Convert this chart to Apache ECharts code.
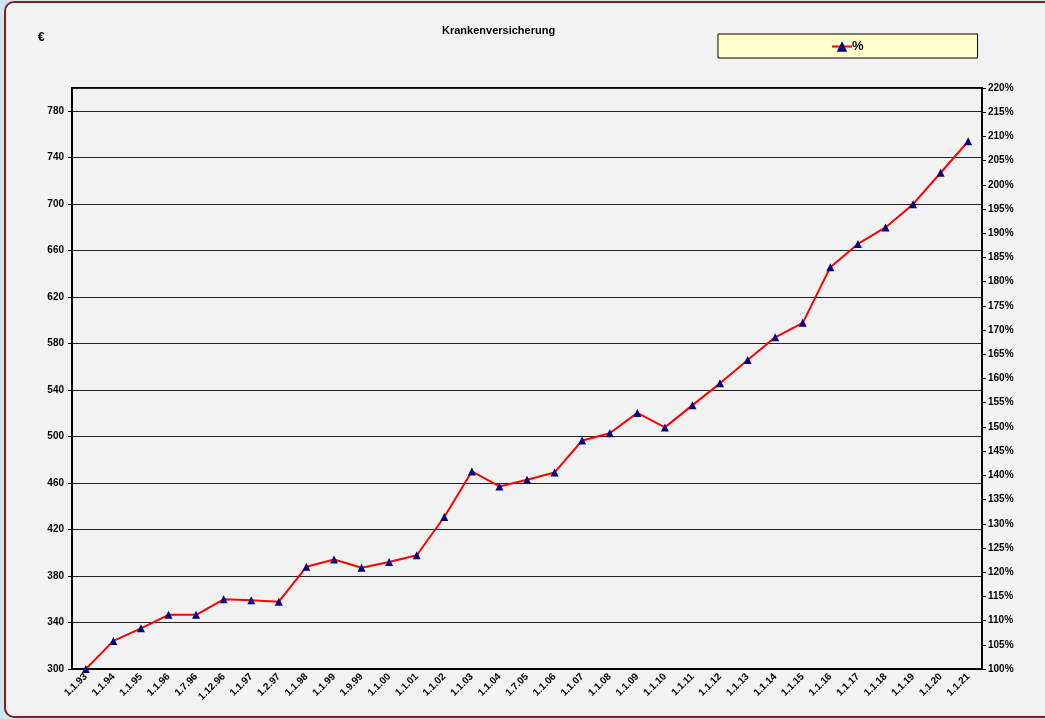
<!DOCTYPE html>
<html>
<head>
<meta charset="utf-8">
<script src="https://cdn.jsdelivr.net/npm/echarts@6/dist/echarts.min.js"></script>
<style>
  html, body { margin: 0; padding: 0; background: #cfe7ef; overflow: hidden; }
  .frame {
    position: absolute; left: 4px; top: 1px; width: 1060px; height: 713px;
    border: 2px solid #8e1c1c; border-radius: 10px; background: #f2f2f2;
  }
  #chart { position: absolute; left: 0; top: 0; width: 1045px; height: 719px; }
</style>
</head>
<body>
<div class="frame"></div>
<div id="chart"></div>
<script>
// Stichtage
const dates = ['1.1.93', '1.1.94', '1.1.95', '1.1.96', '1.7.96', '1.12.96', '1.1.97', '1.2.97',
  '1.1.98', '1.1.99', '1.9.99', '1.1.00', '1.1.01', '1.1.02', '1.1.03', '1.1.04', '1.7.05',
  '1.1.06', '1.1.07', '1.1.08', '1.1.09', '1.1.10', '1.1.11', '1.1.12', '1.1.13', '1.1.14',
  '1.1.15', '1.1.16', '1.1.17', '1.1.18', '1.1.19', '1.1.20', '1.1.21']

// Beitrag in % (1.1.93 = 100%)
const percent = [100, 105.8, 108.4, 111.2, 111.2, 114.4, 114.2, 113.9,
  121.1, 122.6, 120.9, 122.1, 123.5, 131.4, 140.8, 137.7, 139.1,
  140.6, 147.2, 148.7, 152.9, 149.9, 154.5, 159.0, 163.8, 168.5,
  171.5, 183.0, 187.8, 191.2, 196.0, 202.5, 209.0]

const font = 'Arial, "Liberation Sans", sans-serif'
const labelStyle = { color: '#000', fontSize: 10, fontWeight: 'bold', fontFamily: font }

const chart = echarts.init(document.getElementById('chart'))
chart.setOption({
  backgroundColor: 'transparent',
  animation: false,
  title: {
    text: 'Krankenversicherung',
    left: 437,
    top: 20,
    textStyle: { color: '#000', fontSize: 11, fontWeight: 'bold', fontFamily: font }
  },
  graphic: [{
    type: 'text',
    left: 38,
    top: 32,
    style: { text: '€', fill: '#000', fontSize: 12, fontWeight: 'bold', fontFamily: font }
  }],
  legend: {
    left: 718,
    top: 34,
    padding: [6, 114, 5, 113],
    backgroundColor: '#ffffcc',
    borderColor: '#000',
    borderWidth: 1,
    itemWidth: 20,
    itemHeight: 13,
    itemGap: 0,
    textStyle: { color: '#000', fontSize: 13, fontWeight: 'bold', fontFamily: font, padding: [0, 0, 0, -5] },
    data: ['%']
  },
  grid: {
    left: 72,
    right: 63,
    top: 88,
    bottom: 50,
    show: true,
    borderColor: '#000',
    borderWidth: 2
  },
  xAxis: {
    type: 'category',
    data: dates,
    boundaryGap: true,
    axisLine: { lineStyle: { color: '#000', width: 2 } },
    axisTick: { length: 4, lineStyle: { color: '#000' } },
    axisLabel: Object.assign({ rotate: 45, interval: 0, margin: 6 }, labelStyle)
  },
  yAxis: [{
    type: 'value',
    min: 300,
    max: 800,
    interval: 40,
    axisLine: { show: true, lineStyle: { color: '#000', width: 2 } },
    axisTick: { show: true, length: 4, lineStyle: { color: '#000' } },
    axisLabel: Object.assign({ margin: 8, showMaxLabel: false }, labelStyle),
    splitLine: { lineStyle: { color: '#222', width: 1 } }
  }, {
    type: 'value',
    min: 100,
    max: 220,
    interval: 5,
    position: 'right',
    axisLine: { show: true, lineStyle: { color: '#000', width: 2 } },
    axisTick: { show: true, length: 4, lineStyle: { color: '#000' } },
    axisLabel: Object.assign({ margin: 6, formatter: '{value}%' }, labelStyle),
    splitLine: { show: false }
  }],
  series: [{
    name: '%',
    type: 'line',
    yAxisIndex: 1,
    data: percent,
    symbol: 'triangle',
    symbolSize: 8,
    lineStyle: { color: '#ff0000', width: 2 },
    itemStyle: { color: '#000080', borderWidth: 0 }
  }]
})
</script>
</body>
</html>
